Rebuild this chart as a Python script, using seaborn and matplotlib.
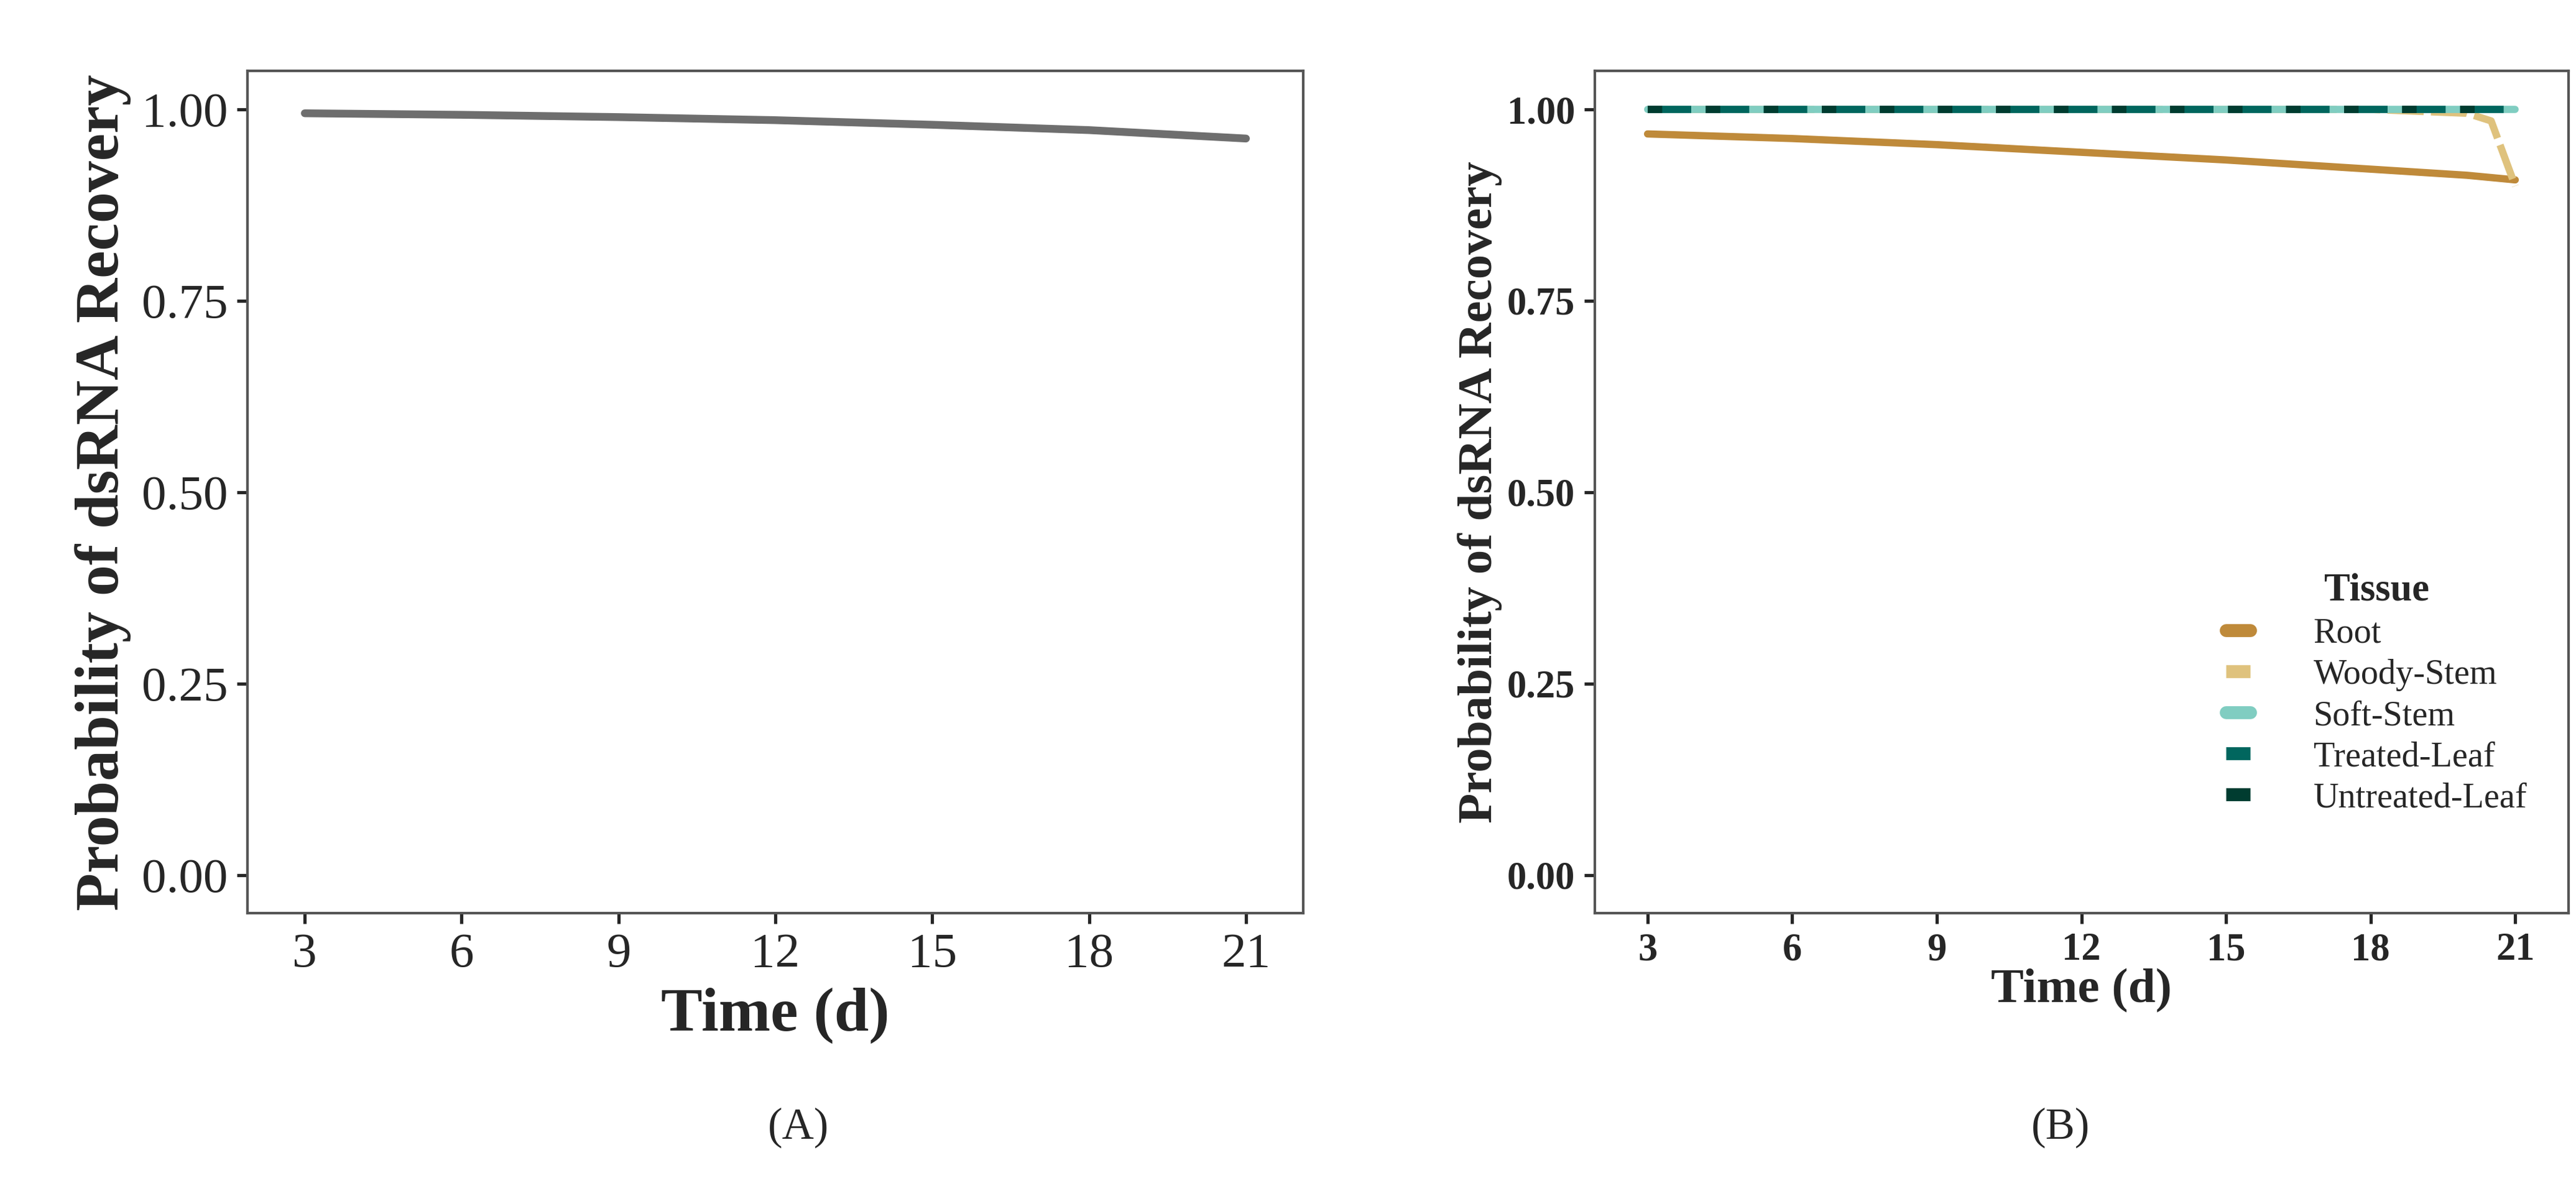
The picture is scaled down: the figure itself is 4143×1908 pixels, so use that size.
import matplotlib
matplotlib.use("Agg")
import matplotlib.pyplot as plt
import pandas as pd
import seaborn as sns

sns.set_theme(style="white")
plt.rcParams["font.family"] = ["Liberation Serif", "DejaVu Serif"]

# ── data ──────────────────────────────────────────────────────────────
time_a = [3, 6, 9, 12, 15, 18, 21]
prob_a = [0.995, 0.993, 0.990, 0.986, 0.980, 0.973, 0.962]

tissues = ["Root", "Woody-Stem", "Soft-Stem", "Treated-Leaf", "Untreated-Leaf"]
colors = ["#bf8a3a", "#dfc27d", "#80cdc1", "#01665e", "#003c30"]
time_b = [3, 6, 9, 12, 15, 18, 20, 20.5, 21]
root = [0.968, 0.962, 0.954, 0.944, 0.934, 0.922, 0.914, 0.911, 0.908]
woody = [1.0, 1.0, 1.0, 1.0, 1.0, 1.0, 0.995, 0.985, 0.900]
soft = [1.0] * 9
treated = [1.0] * 9
untreated = [1.0] * 9

rows = []
for name, vals in zip(tissues, [root, woody, soft, treated, untreated]):
    for t, v in zip(time_b, vals):
        rows.append({"Time": t, "Prob": v, "Tissue": name})
df_b = pd.DataFrame(rows)

fig = plt.figure(figsize=(13.81, 6.36), dpi=300)
ax_a = fig.add_axes([0.096, 0.23, 0.41, 0.71])
ax_b = fig.add_axes([0.619, 0.23, 0.378, 0.71])

# ── panel A ──
sns.lineplot(x=time_a, y=prob_a, ax=ax_a, color="#6e6e6e", lw=3)
ax_a.set_xlabel("Time (d)", fontsize=24, fontweight="bold")
ax_a.set_ylabel("Probability of dsRNA Recovery", fontsize=24, fontweight="bold")
ax_a.tick_params(labelsize=19, length=4, left=True, bottom=True)

# ── panel B ──
dashes = {"Root": "", "Woody-Stem": (5, 1), "Soft-Stem": "",
          "Treated-Leaf": (6, 2), "Untreated-Leaf": (2, 6)}
sns.lineplot(data=df_b, x="Time", y="Prob", hue="Tissue", style="Tissue",
             hue_order=tissues, style_order=tissues,
             palette=colors, dashes=dashes, ax=ax_b, lw=2.8)
ax_b.set_xlabel("Time (d)", fontsize=19, fontweight="bold", labelpad=0)
ax_b.set_ylabel("Probability of dsRNA Recovery", fontsize=19, fontweight="bold", labelpad=2)
ax_b.tick_params(labelsize=15, length=4, left=True, bottom=True)
for lab in ax_b.get_xticklabels() + ax_b.get_yticklabels():
    lab.set_fontweight("bold")
leg = ax_b.legend(title="Tissue", loc="lower right", frameon=False,
                  fontsize=13.5, handlelength=0.7, handletextpad=1.8,
                  labelspacing=0.25, bbox_to_anchor=(0.99, 0.08))
leg.get_title().set_fontweight("bold")
leg.get_title().set_fontsize(15)
for h in leg.get_lines():
    h.set_linewidth(5)

for ax in (ax_a, ax_b):
    ax.set_xticks([3, 6, 9, 12, 15, 18, 21])
    ax.set_yticks([0, 0.25, 0.5, 0.75, 1.0])
    ax.set_yticklabels(["0.00", "0.25", "0.50", "0.75", "1.00"])
    ax.set_xlim(1.9, 22.1)
    ax.set_ylim(-0.05, 1.05)
    for s in ax.spines.values():
        s.set_color("#555555")
        s.set_linewidth(1)

fig.text(0.31, 0.04, "(A)", ha="center", fontsize=17)
fig.text(0.80, 0.04, "(B)", ha="center", fontsize=17)
fig.savefig("out.png", dpi=300, facecolor="white")
